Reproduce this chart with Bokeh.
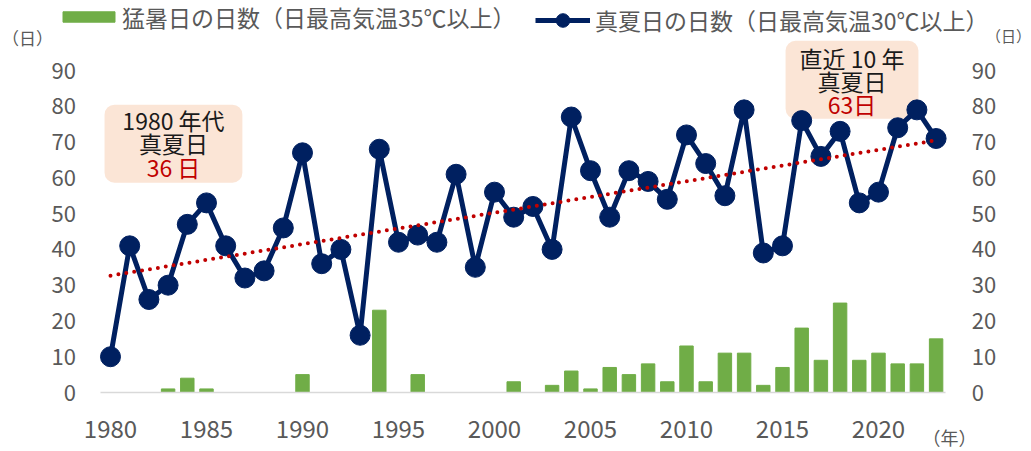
import numpy as np
from bokeh.plotting import figure
from bokeh.models import (Range1d, LinearAxis, FixedTicker, Legend, LegendItem,
                          BoxAnnotation, Label, ColumnDataSource)
from bokeh.embed import file_html
from bokeh.resources import INLINE

years = list(range(1980, 2024))
# 真夏日の日数（日最高気温30℃以上）
manatsubi = [10, 41, 26, 30, 47, 53, 41, 32, 34, 46,
             67, 36, 40, 16, 68, 42, 44, 42, 61, 35,
             56, 49, 52, 40, 77, 62, 49, 62, 59, 54,
             72, 64, 55, 79, 39, 41, 76, 66, 73, 53,
             56, 74, 79, 71]
# 猛暑日の日数（日最高気温35℃以上）
moshobi = [0, 0, 0, 1, 4, 1, 0, 0, 0, 0,
           5, 0, 0, 0, 23, 0, 5, 0, 0, 0,
           0, 3, 0, 2, 6, 1, 7, 5, 8, 3,
           13, 3, 11, 11, 2, 7, 18, 9, 25, 9,
           11, 8, 8, 15]
x_ticks = [1980, 1985, 1990, 1995, 2000, 2005, 2010, 2015, 2020]
y_ticks = [0, 10, 20, 30, 40, 50, 60, 70, 80, 90]
label_bars = "猛暑日の日数（日最高気温35℃以上）"
label_line = "真夏日の日数（日最高気温30℃以上）"

FONT = "Noto Sans CJK JP"
GRAY = "#595959"
NAVY = "#002060"
GREEN = "#70AD47"
RED = "#C00000"
BOXFILL = "#FBE5D6"

slope, intercept = np.polyfit(years, manatsubi, 1)
trend = [slope * y + intercept for y in years]

src = ColumnDataSource(dict(year=years, manatsubi=manatsubi, moshobi=moshobi, trend=trend))

# frame covers the whole canvas; axes are pinned with fixed_location
p = figure(width=1031, height=451, output_backend="svg", toolbar_location=None,
           x_range=Range1d(1974.271, 2027.969), y_range=Range1d(-16.49, 109.57),
           min_border=0)
p.title.visible = False
p.outline_line_color = None
p.xgrid.visible = False
p.ygrid.visible = False

# boxes (underlay)
p.add_layout(BoxAnnotation(left=1979.69, right=1986.87, top=80.45, bottom=58.66,
                           fill_color=BOXFILL, fill_alpha=1, line_alpha=0,
                           border_radius=10, level="underlay"))
p.add_layout(BoxAnnotation(left=2015.16, right=2022.08, top=98.3, bottom=76.5,
                           fill_color=BOXFILL, fill_alpha=1, line_alpha=0,
                           border_radius=10, level="underlay"))

bars = p.vbar(x="year", top="moshobi", width=0.7, source=src,
              fill_color=GREEN, line_color=GREEN)
ln = p.line(x="year", y="manatsubi", source=src, line_color=NAVY, line_width=5)
pts = p.scatter(x="year", y="manatsubi", source=src, size=20,
                fill_color=NAVY, line_color=NAVY)
p.line(x="year", y="trend", source=src, line_color=RED, line_width=4,
       line_dash="0 8", line_cap="round")

def style_axis(a, size, standoff):
    a.major_tick_line_color = None
    a.minor_tick_line_color = None
    a.major_label_text_font = FONT
    a.major_label_text_font_size = size
    a.major_label_text_color = GRAY
    a.major_label_standoff = standoff

xa = p.xaxis[0]
xa.ticker = FixedTicker(ticks=x_ticks)
xa.fixed_location = 0
xa.bounds = (1979.5, 2023.5)
xa.axis_line_color = "#D9D9D9"
xa.axis_line_width = 1.5
style_axis(xa, "24px", 21)

ya = p.yaxis[0]
ya.ticker = FixedTicker(ticks=y_ticks)
ya.fixed_location = 1979.5
ya.axis_line_color = None
style_axis(ya, "22px", 19)

ra = LinearAxis(ticker=FixedTicker(ticks=y_ticks), fixed_location=2023.5)
ra.axis_line_color = None
style_axis(ra, "22px", 20)
p.add_layout(ra, "right")

common = dict(orientation="horizontal", padding=0, margin=0,
              border_line_alpha=0, background_fill_alpha=0,
              label_text_font=FONT, label_text_font_size="23px",
              label_text_color=GRAY, label_text_baseline="middle")

legend1 = Legend(items=[LegendItem(label=label_bars, renderers=[bars])],
                 location=(56, 417.5), glyph_width=65, glyph_height=13,
                 label_height=28, label_standoff=1, **common)
legend2 = Legend(items=[LegendItem(label=label_line, renderers=[ln, pts])],
                 location=(535, 414.5), glyph_width=55, glyph_height=34,
                 label_height=34, label_standoff=5, **common)
p.add_layout(legend1, "center")
p.add_layout(legend2, "center")

def lab(x, y, text, color="#1a1a1a", size="23px"):
    p.add_layout(Label(x=x, y=y, text=text, text_align="center", text_baseline="middle",
                       text_font=FONT, text_font_size=size, text_color=color))

lab(1983.28, 76.3, "1980 年代")
lab(1983.28, 69.6, "真夏日")
lab(1983.28, 63.1, "36 日", RED)
lab(2018.62, 93.6, "直近 10 年")
lab(2018.62, 87.2, "真夏日")
lab(2018.62, 80.7, "63日", RED)

lab(1975.68, 99.16, "（日）", GRAY, "17px")
lab(2026.77, 99.7, "（日）", GRAY, "15px")
lab(2023.7, -12.57, "（年）", GRAY, "18px")

open("out.html", "w").write(file_html(p, INLINE))
